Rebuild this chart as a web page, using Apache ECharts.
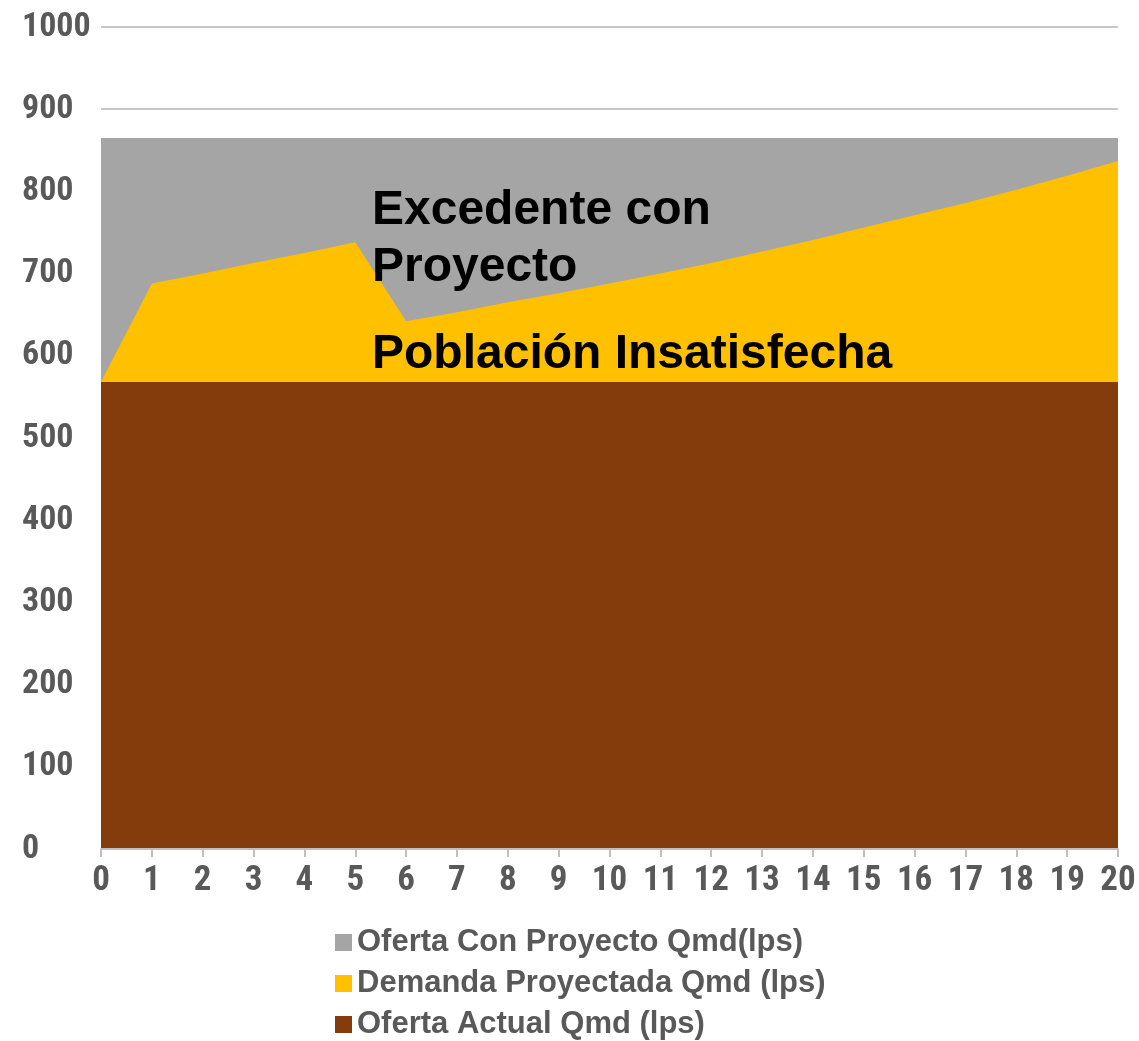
<!DOCTYPE html>
<html>
<head>
<meta charset="utf-8">
<script src="https://cdn.jsdelivr.net/npm/echarts@6/dist/echarts.min.js"></script>
<style>html,body{margin:0;padding:0;background:#fff}#c{width:1139px;height:1041px}</style>
</head>
<body>
<div id="c"></div>
<script>
const years = ['0','1','2','3','4','5','6','7','8','9','10','11','12','13','14','15','16','17','18','19','20'];
const ofertaConProyecto = [865,865,865,865,865,865,865,865,865,865,865,865,865,865,865,865,865,865,865,865,865];
const demandaProyectada = [568,688,700,713,725,738,642,653,665,676,688,700,713,727,741,756,771,786,802,819,837];
const ofertaActual = [568,568,568,568,568,568,568,568,568,568,568,568,568,568,568,568,568,568,568,568,568];
const seriesNames = ['Oferta Con Proyecto Qmd(lps)','Demanda Proyectada Qmd (lps)','Oferta Actual Qmd (lps)'];
const annotations = ['Excedente con', 'Proyecto', 'Población Insatisfecha'];

const chart = echarts.init(document.getElementById('c'));
const narrow = '"Liberation Sans Narrow", "Arial Narrow", "Roboto Condensed", sans-serif';
const font = '"Liberation Sans", Arial, sans-serif';
const mk = (name, data, color) => ({
  name, type: 'line', data, symbol: 'none', smooth: false,
  lineStyle: { width: 0, color }, itemStyle: { color },
  areaStyle: { color, opacity: 1 }, emphasis: { disabled: true }
});
chart.setOption({
  animation: false,
  grid: { left: 101, right: 21, top: 27, bottom: 192 },
  xAxis: {
    type: 'category', data: years, boundaryGap: false,
    axisLine: { show: true, lineStyle: { color: '#bfbfbf', width: 2 } },
    axisTick: { show: true, alignWithLabel: true, length: 8, lineStyle: { color: '#bfbfbf', width: 2 } },
    axisLabel: { color: '#595959', fontSize: 35, fontWeight: 'bold', fontFamily: narrow, margin: 15, interval: 0 },
    splitLine: { show: false }, z: 10
  },
  yAxis: {
    type: 'value', min: 0, max: 1000, interval: 100,
    axisLine: { show: false }, axisTick: { show: false },
    axisLabel: { color: '#595959', fontSize: 34, fontWeight: 'bold', fontFamily: narrow, align: 'left', margin: 79,
      formatter: v => String(v) },
    splitLine: { show: true, lineStyle: { color: '#c8c8c8', width: 2 } }
  },
  legend: {
    orient: 'vertical', left: 335, top: 927, padding: 0,
    itemWidth: 17, itemHeight: 17, itemGap: 10, itemTextGap: 3, icon: 'rect',
    textStyle: { color: '#595959', fontSize: 31, fontWeight: 'bold', fontFamily: font, lineHeight: 31 },
    data: seriesNames
  },
  series: [
    mk(seriesNames[0], ofertaConProyecto, '#a5a5a5'),
    mk(seriesNames[1], demandaProyectada, '#ffc000'),
    mk(seriesNames[2], ofertaActual, '#843c0c')
  ],
  graphic: [
    { type: 'text', x: 372, y: 211, z: 100, style: { text: annotations[0], fill: '#000', font: 'bold 48px ' + font, verticalAlign: 'middle' } },
    { type: 'text', x: 372, y: 268, z: 100, style: { text: annotations[1], fill: '#000', font: 'bold 48px ' + font, verticalAlign: 'middle' } },
    { type: 'text', x: 372, y: 355, z: 100, style: { text: annotations[2], fill: '#000', font: 'bold 48px ' + font, verticalAlign: 'middle' } }
  ]
});
</script>
</body>
</html>
